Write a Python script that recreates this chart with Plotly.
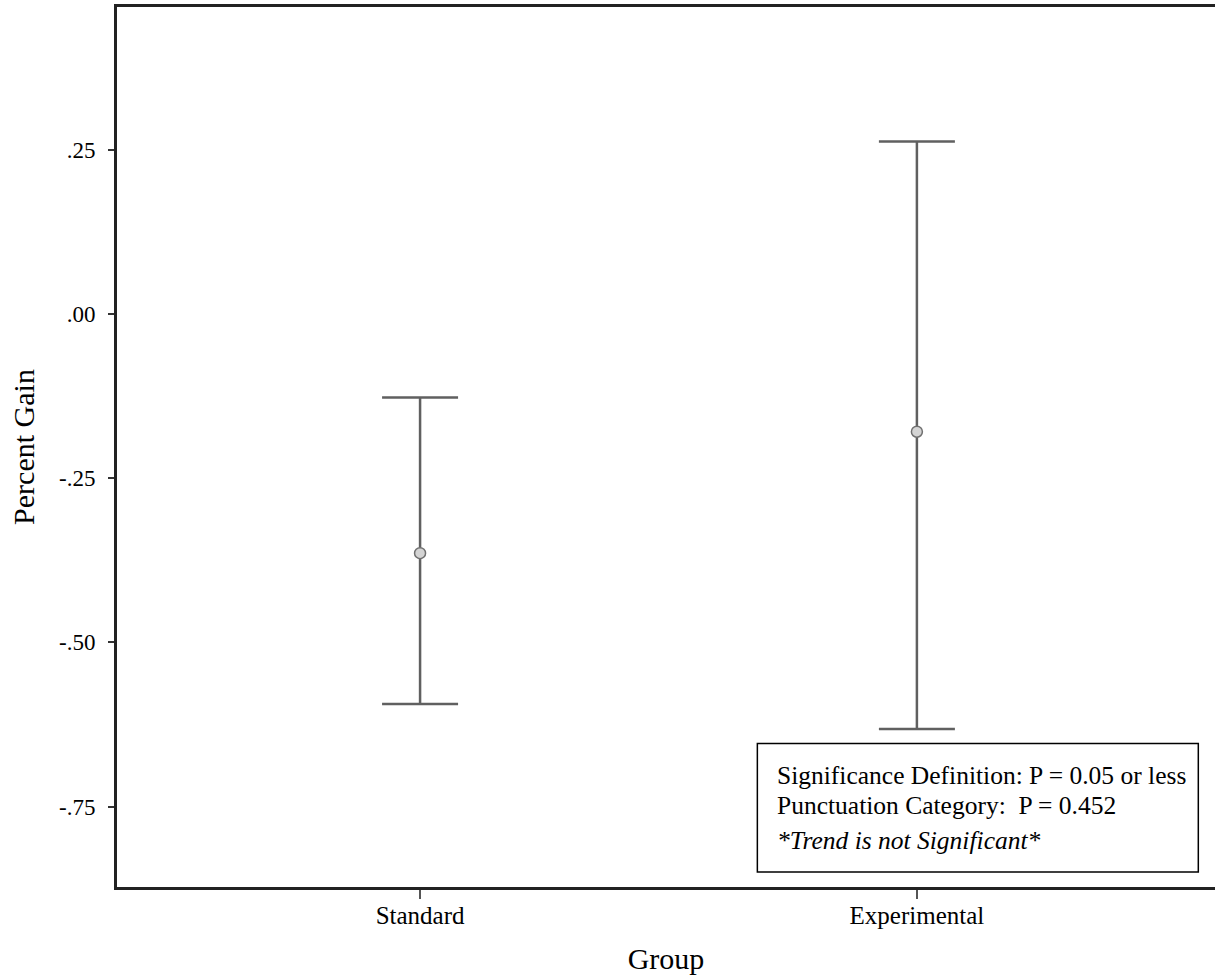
import plotly.graph_objects as go

groups = ["Standard", "Experimental"]
means = [-0.364, -0.179]
upper = [-0.127, 0.263]
lower = [-0.594, -0.632]

y_tickvals = [0.25, 0.0, -0.25, -0.50, -0.75]
y_ticktext = [".25", ".00", "-.25", "-.50", "-.75"]

note_lines = [
    "Significance Definition: P = 0.05 or less",
    "Punctuation Category:  P = 0.452",
    "<i>*Trend is not Significant*</i>",
]

err_plus = [u - m for u, m in zip(upper, means)]
err_minus = [m - l for m, l in zip(means, lower)]
xpos = list(range(len(groups)))

SERIF = "Liberation Serif, Times New Roman, serif"

fig = go.Figure()
fig.add_trace(go.Scatter(
    x=xpos, y=means, mode="markers",
    marker=dict(symbol="circle", size=11, color="#d4d4d4",
                line=dict(color="#707070", width=1.5)),
    error_y=dict(type="data", symmetric=False, array=err_plus,
                 arrayminus=err_minus, color="#606060",
                 thickness=2.5, width=38),
    showlegend=False,
))

fig.update_layout(
    width=1215, height=978,
    margin=dict(l=117, r=0, t=7, b=91),
    paper_bgcolor="white", plot_bgcolor="white",
    font=dict(family=SERIF, color="black"),
    xaxis=dict(
        range=[-0.61, 1.60], tickmode="array", tickvals=xpos, ticktext=groups,
        showgrid=False, zeroline=False, showline=True, linecolor="#222222",
        linewidth=3, mirror=True, ticks="outside", ticklen=9, tickwidth=1.5,
        tickcolor="#555555", ticklabelstandoff=-5,
        tickfont=dict(family=SERIF, size=25, color="black"),
        title=dict(text="Group", font=dict(family=SERIF, size=30, color="black"),
                   standoff=20),
    ),
    yaxis=dict(
        range=[-0.8726, 0.468], tickmode="array", tickvals=y_tickvals,
        ticktext=y_ticktext, showgrid=False, zeroline=False, showline=True,
        linecolor="#222222", linewidth=3, mirror=False, ticks="outside",
        ticklen=6, tickwidth=1.5, tickcolor="#333333", ticklabelstandoff=8,
        tickfont=dict(family=SERIF, size=23, color="black"),
        title=dict(text="Percent Gain", font=dict(family=SERIF, size=30, color="black"),
                   standoff=16),
    ),
)

fig.add_shape(type="rect", xref="paper", yref="paper",
              x0=0.5832, x1=0.9848, y0=0.0171, y1=0.1631,
              line=dict(color="black", width=1.5), fillcolor="white", layer="above")

line_y = [0.127, 0.0929, 0.0531]
for txt, yy in zip(note_lines, line_y):
    fig.add_annotation(text=txt, xref="paper", yref="paper", x=0.5993, y=yy,
                       xanchor="left", yanchor="middle", showarrow=False,
                       font=dict(family=SERIF, size=25.5, color="black"))

fig.write_html("out.html", config={"displayModeBar": False},
               post_script="document.body.style.margin='0px';")
